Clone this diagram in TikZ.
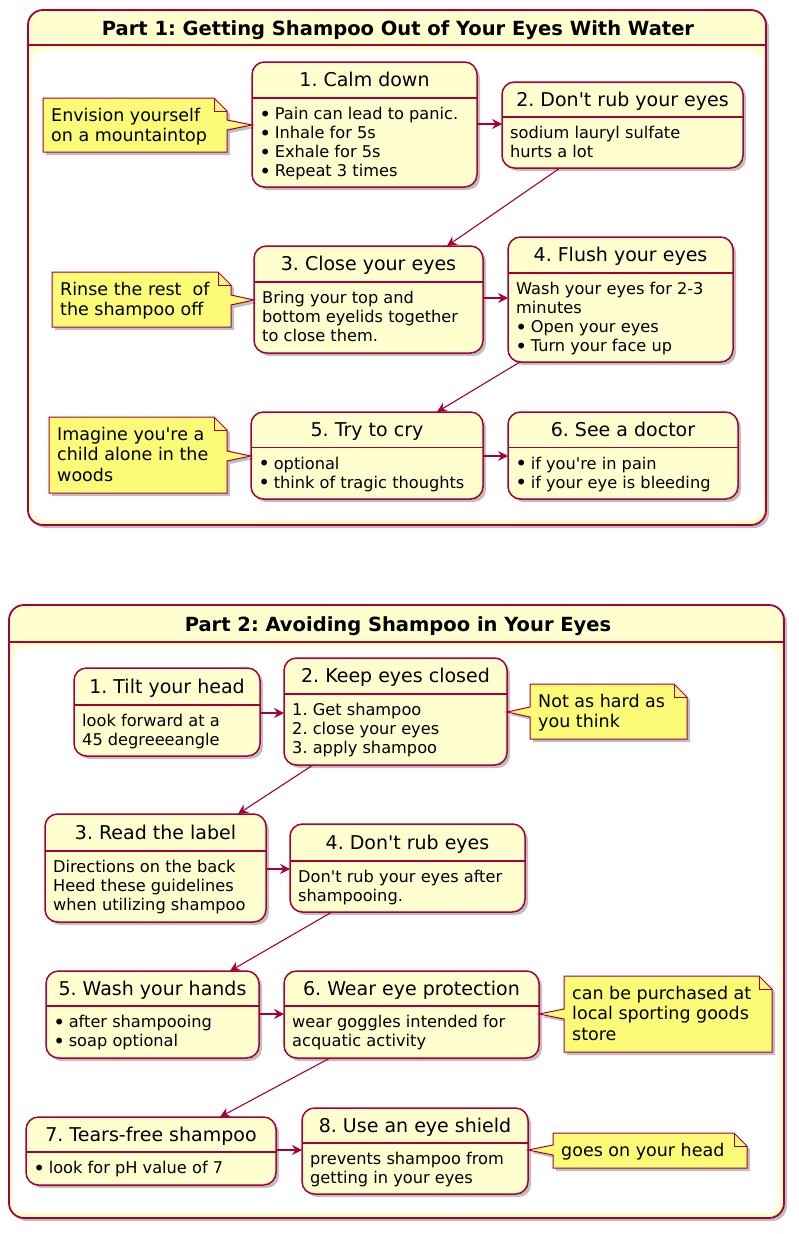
\documentclass[tikz,border=0pt]{standalone}
\usepackage{fontspec}
\setmainfont{DejaVu Sans}
\usetikzlibrary{arrows.meta,shadows}
\definecolor{pborder}{HTML}{A80036}
\definecolor{pfill}{HTML}{FEFECE}
\definecolor{nfill}{HTML}{FBFB77}
\frenchspacing
\newcommand\qq{\textquotesingle}
\newcommand\bul{\makebox[14.6pt][l]{\hspace{-0.8pt}\raisebox{-1.6pt}{\fontsize{20}{19}\selectfont •}}}
\newcommand\bfont{\fontsize{16.2}{19}\selectfont}
\newcommand\tfont{\fontsize{19}{22}\selectfont}
\newcommand\nfont{\fontsize{17.5}{20.5}\selectfont}
\newcommand\pfont{\fontsize{19.5}{22}\selectfont\bfseries}
\tikzset{
  shad/.style={drop shadow={shadow xshift=3pt, shadow yshift=-3pt, fill=black, opacity=0.25}},
  stnode/.style={draw=pborder, fill=pfill, line width=1.5pt, rounded corners=12.5pt, inner sep=0pt, outer sep=0pt, shad},
  sepline/.style={draw=pborder, line width=1.5pt},
  sttitle/.style={anchor=base, inner sep=0pt, font=\tfont},
  stbody/.style={anchor=north west, inner sep=0pt, align=left, font=\bfont},
  notepath/.style={draw=pborder, fill=nfill, line width=1pt, line join=miter, shad},
  notetext/.style={anchor=north west, inner sep=0pt, align=left, font=\nfont},
  contnode/.style={draw=pborder, fill=pfill, line width=1.8pt, rounded corners=15pt, inner sep=0pt, outer sep=0pt, shad},
  conttitle/.style={anchor=base, inner sep=0pt, font=\pfont},
  arr/.style={draw=pborder, line width=1.1pt, -{Stealth[length=10pt,width=10pt,inset=3.5pt]}}
}
% name x1 y1 x2 y2 ysep title body
\newcommand\stbox[8]{%
  \node[stnode, minimum width={(#4)-(#2)}, minimum height={(#5)-(#3)}] (#1) at ({((#2)+(#4))/2},{((#3)+(#5))/2}) {};
  \draw[sepline] (#1.west |- 0,#6) -- (#1.east |- 0,#6);
  \node[sttitle] (#1-t) at ({((#2)+(#4))/2},{((#3)+(#6))/2+6.5}) {#7};
  \node[stbody] (#1-b) at ({(#2)+8},{(#6)+8.5}) {\rule{0pt}{13pt}#8};
}
% name x1 y1 x2 y2 state tipy side(r/l) text
\newcommand\notebox[9]{%
  \ifx r#8
    \path[notepath] (#2,#3) -- ({(#4)-13},#3) -- (#4,{(#3)+13}) -- (#4,{(#7)-5}) -- (#6.west |- 0,#7) -- (#4,{(#7)+5}) -- (#4,#5) -- (#2,#5) -- cycle;
  \else
    \path[notepath] (#2,#3) -- ({(#4)-13},#3) -- (#4,{(#3)+13}) -- (#4,#5) -- (#2,#5) -- (#2,{(#7)+5}) -- (#6.east |- 0,#7) -- (#2,{(#7)-5}) -- cycle;
  \fi
  \draw[draw=pborder, line width=1pt] ({(#4)-13},#3) -- ({(#4)-13},{(#3)+13}) -- (#4,{(#3)+13});
  \node[notetext] (#1) at ({(#2)+8},{(#3)+9}) {\rule{0pt}{14pt}#9};
}
\begin{document}
\begin{tikzpicture}[x=1pt,y=-1pt]
\useasboundingbox (0,0) rectangle (799,1234);
% ---------------- Part 1 ----------------
\node[contnode, minimum width=738, minimum height=515] (P1) at (397,267.5) {};
\draw[sepline, line width=1.8pt] (P1.west |- 0,45) -- (P1.east |- 0,45);
\fill[white, rounded corners=12pt] (32,50) rectangle (762,520);
\node[conttitle] (P1t) at (398,35) {Part 1: Getting Shampoo Out of Your Eyes With Water};

\stbox{s1}{252}{62}{477}{187}{98}{1. Calm down}{\bul Pain can lead to panic.\\\bul Inhale for 5s\\\bul Exhale for 5s\\\bul Repeat 3 times}
\stbox{s2}{502}{82}{743}{168}{117}{2. Don\qq t rub your eyes}{sodium lauryl sulfate\\hurts a lot}
\stbox{s3}{254}{246}{483}{353}{282}{3. Close your eyes}{Bring your top and\\bottom eyelids together\\to close them.}
\stbox{s4}{508}{237}{733}{362}{273}{4. Flush your eyes}{Wash your eyes for 2-3\\minutes\\\bul Open your eyes\\\bul Turn your face up}
\stbox{s5}{251}{412}{483}{499}{447.5}{5. Try to cry}{\bul optional\\\bul think of tragic thoughts}
\stbox{s6}{508}{412}{738}{499}{447.5}{6. See a doctor}{\bul if you\qq re in pain\\\bul if your eye is bleeding}

\notebox{n1}{43}{98}{227}{152}{s1}{125}{r}{Envision yourself\\on a mountaintop}
\notebox{n2}{52}{272}{231}{327}{s3}{300}{r}{Rinse the rest\ \ of\\the shampoo off}
\notebox{n3}{49}{417}{227}{493}{s5}{456}{r}{Imagine you\qq re a\\child alone in the\\woods}

\draw[arr] (s1.east |- 0,124) -- (s2.west |- 0,124);
\draw[arr] ([xshift=-62.5pt]s2.south) -- ([xshift=78.5pt]s3.north);
\draw[arr] (s3.east |- 0,298) -- (s4.west |- 0,298);
\draw[arr] ([xshift=-100.5pt]s4.south) -- ([xshift=70pt]s5.north);
\draw[arr] (s5.east |- 0,456) -- (s6.west |- 0,456);

% ---------------- Part 2 ----------------
\node[contnode, minimum width=775, minimum height=613] (P2) at (396.5,911.5) {};
\draw[sepline, line width=1.8pt] (P2.west |- 0,642) -- (P2.east |- 0,642);
\fill[white, rounded corners=12pt] (13,647) rectangle (779,1213);
\node[conttitle] (P2t) at (398,631) {Part 2: Avoiding Shampoo in Your Eyes};

\stbox{q1}{74}{668}{260}{756}{705}{1. Tilt your head}{look forward at a\\45 degreeeangle}
\stbox{q2}{284}{658}{507}{765}{694}{2. Keep eyes closed}{1. Get shampoo\\2. close your eyes\\3. apply shampoo}
\stbox{q3}{45}{814}{266}{922}{851}{3. Read the label}{Directions on the back\\Heed these guidelines\\when utilizing shampoo}
\stbox{q4}{290}{824}{525}{912}{861}{4. Don\qq t rub eyes}{Don\qq t rub your eyes after\\shampooing.}
\stbox{q5}{46}{971}{259}{1058}{1006}{5. Wash your hands}{\bul after shampooing\\\bul soap optional}
\stbox{q6}{284}{971}{539}{1058}{1006}{6. Wear eye protection}{wear goggles intended for\\acquatic activity}
\stbox{q7}{26}{1117}{276}{1185}{1152}{7. Tears-free shampoo}{\bul look for pH value of 7}
\stbox{q8}{302}{1108}{528}{1194}{1143}{8. Use an eye shield}{prevents shampoo from\\getting in your eyes}

\notebox{m1}{530}{684}{687}{739}{q2}{712}{l}{Not as hard as\\you think}
\notebox{m2}{564}{976}{772}{1052}{q6}{1014}{l}{can be purchased at\\local sporting goods\\store}
\notebox{m3}{553}{1133}{747}{1168}{q8}{1150}{l}{goes on your head}

\draw[arr] (q1.east |- 0,713) -- (q2.west |- 0,713);
\draw[arr] ([xshift=-82.5pt]q2.south) -- ([xshift=82.5pt]q3.north);
\draw[arr] (q3.east |- 0,869) -- (q4.west |- 0,869);
\draw[arr] ([xshift=-75.5pt]q4.south) -- ([xshift=77.5pt]q5.north);
\draw[arr] (q5.east |- 0,1014) -- (q6.west |- 0,1014);
\draw[arr] ([xshift=-81.5pt]q6.south) -- ([xshift=69pt]q7.north);
\draw[arr] (q7.east |- 0,1150) -- (q8.west |- 0,1150);
\end{tikzpicture}
\end{document}
